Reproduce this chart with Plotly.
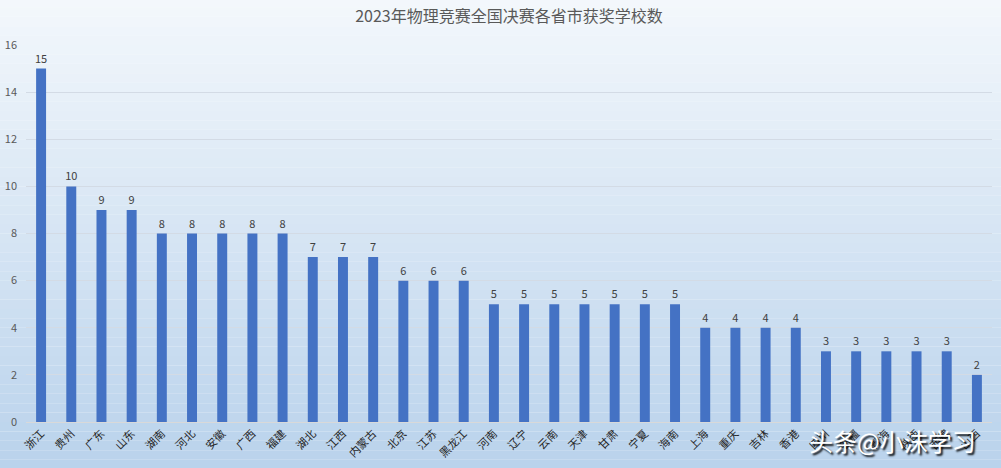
import plotly.graph_objects as go

# 省份和获奖学校数
provinces = ['浙江', '贵州', '广东', '山东', '湖南', '河北', '安徽', '广西', '福建', '湖北',
             '江西', '内蒙古', '北京', '江苏', '黑龙江', '河南', '辽宁', '云南', '天津', '甘肃',
             '宁夏', '海南', '上海', '重庆', '吉林', '香港', '四川', '新疆', '青海', '陕西',
             '西藏', '山西']
schools = [15, 10, 9, 9, 8, 8, 8, 8, 8, 7,
           7, 7, 6, 6, 6, 5, 5, 5, 5, 5,
           5, 5, 4, 4, 4, 4, 3, 3, 3, 3,
           3, 2]
y_ticks = [0, 2, 4, 6, 8, 10, 12, 14, 16]

fig = go.Figure()
fig.add_trace(go.Bar(
    x=provinces, y=schools,
    marker=dict(color='#4472c4', line=dict(width=0)),
    text=schools, textposition='outside', cliponaxis=False, constraintext='none',
    textfont=dict(size=11, color='#404040'),
))

# 背景渐变 (白 -> 浅蓝)
top = (247, 250, 253)
bot = (178, 206, 234)
n = 60
shapes = []
for i in range(n):
    t = i / (n - 1)
    c = tuple(int(top[k] + (bot[k] - top[k]) * t) for k in range(3))
    shapes.append(dict(type='rect', xref='paper', yref='paper', layer='below',
                       x0=-0.05, x1=1.05, y0=1.2 - (i + 1) * 1.5 / n, y1=1.2 - i * 1.5 / n,
                       fillcolor='rgb(%d,%d,%d)' % c, line=dict(width=0)))

fig.update_layout(
    width=1001, height=468,
    margin=dict(l=26, r=9, t=45, b=46),
    paper_bgcolor='rgb(247,250,253)',
    plot_bgcolor='rgba(0,0,0,0)',
    shapes=shapes,
    bargap=0.67,
    showlegend=False,
    font=dict(family='Noto Sans CJK SC', color='#404040'),
    title=dict(text='2023年物理竞赛全国决赛各省市获奖学校数', x=0.5, xref='paper', y=0.965,
               yanchor='middle', font=dict(size=16, color='#595959')),
    xaxis=dict(tickangle=-45, tickfont=dict(size=11, color='#262626'), showgrid=False,
               showline=True, linecolor='#d9d9d9', ticks='', automargin=False),
    yaxis=dict(range=[0, 16], tickvals=y_ticks, tickfont=dict(size=11, color='#595959'),
               gridcolor='#d3dbe5', gridwidth=1, zeroline=False, ticks='', ticklen=0,
               automargin=False, ticklabelstandoff=8),
    annotations=[dict(text='头条@小沫学习', xref='paper', yref='paper', x=0.897, y=-0.048,
                      showarrow=False, xanchor='center', yanchor='middle',
                      font=dict(size=24, color='white', shadow='2px 2px 2px #000000',
                                family='Noto Sans CJK SC'))],
)

fig.write_html('out.html', config={'displayModeBar': False},
               post_script="document.body.style.margin='0';document.body.style.overflow='hidden';")
